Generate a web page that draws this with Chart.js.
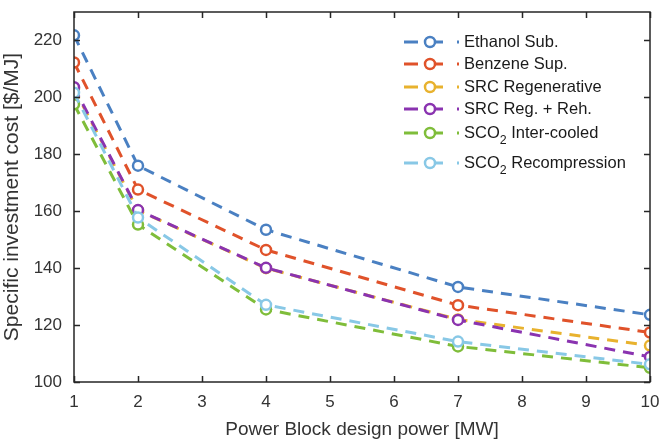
<!DOCTYPE html>
<html>
<head>
<meta charset="utf-8">
<script src="https://cdn.jsdelivr.net/npm/chart.js@4/dist/chart.umd.min.js"></script>
<style>
  html, body { margin: 0; padding: 0; background: #ffffff; }
  #wrap { width: 660px; height: 441px; position: relative; }
</style>
</head>
<body>
<div id="wrap"><canvas id="c" width="660" height="441"></canvas></div>
<script>
// Design power of the power block [MW]
const powerMW = [1, 2, 4, 7, 10];

// Specific investment cost [$/MJ] per cycle layout
const ethanolSub   = [221.8, 176.0, 153.5, 133.4, 123.6];
const benzeneSup   = [212.3, 167.6, 146.4, 127.0, 117.4];
const srcRegen     = [203.0, 160.3, 140.0, 122.0, 112.8];
const srcRegReh    = [203.6, 160.4, 140.1, 121.8, 108.8];
const sco2Inter    = [197.6, 155.3, 125.5, 112.5, 105.0];
const sco2Recomp   = [201.6, 157.8, 127.1, 114.2, 106.2];

const seriesNames  = ['Ethanol Sub.', 'Benzene Sup.', 'SRC Regenerative', 'SRC Reg. + Reh.', 'SCO2 Inter-cooled', 'SCO2 Recompression'];
const seriesValues = [ethanolSub, benzeneSup, srcRegen, srcRegReh, sco2Inter, sco2Recomp];
const seriesColors = ['#4a80c2', '#e0522a', '#e8b22e', '#8a33b0', '#7fbd3a', '#88c8e6'];

const yTicks = [100, 120, 140, 160, 180, 200, 220];
const xTicks = [1, 2, 3, 4, 5, 6, 7, 8, 9, 10];

const AXIS_COLOR = '#262626';
const TEXT_COLOR = '#333333';
const FONT = 'Liberation Sans, Arial, Helvetica, sans-serif';

const datasets = seriesNames.map((name, i) => ({
  label: name,
  data: powerMW.map((x, k) => ({ x: x, y: seriesValues[i][k] })),
  borderColor: seriesColors[i],
  backgroundColor: seriesColors[i],
  borderWidth: 3,
  borderDash: [11, 8],
  pointStyle: 'circle',
  pointRadius: 5,
  pointBorderWidth: 2.5,
  pointBorderColor: seriesColors[i],
  pointBackgroundColor: '#ffffff',
  tension: 0,
  order: seriesNames.length - i
}));

// Box around the plot with inward tick marks on all four sides
const boxPlugin = {
  id: 'boxAxes',
  afterDatasetsDraw(chart) {
    const { ctx, chartArea: a, scales } = chart;
    ctx.save();
    ctx.strokeStyle = AXIS_COLOR;
    ctx.lineWidth = 1.5;
    ctx.setLineDash([]);
    ctx.strokeRect(a.left, a.top, a.right - a.left, a.bottom - a.top);
    const tl = 6;
    ctx.beginPath();
    xTicks.forEach(v => {
      const px = Math.round(scales.x.getPixelForValue(v)) + 0.5;
      ctx.moveTo(px, a.bottom); ctx.lineTo(px, a.bottom - tl);
      ctx.moveTo(px, a.top); ctx.lineTo(px, a.top + tl);
    });
    yTicks.forEach(v => {
      const py = Math.round(scales.y.getPixelForValue(v)) + 0.5;
      ctx.moveTo(a.left, py); ctx.lineTo(a.left + tl, py);
      ctx.moveTo(a.right, py); ctx.lineTo(a.right - tl, py);
    });
    ctx.stroke();
    ctx.restore();
  }
};

// Draws text where a leading "SCO2" gets its "2" as a subscript
function drawSubText(ctx, text, x, y, size) {
  const m = text.match(/^SCO2(.*)$/);
  ctx.font = size + 'px ' + FONT;
  ctx.textBaseline = 'middle';
  ctx.textAlign = 'left';
  if (!m) { ctx.fillText(text, x, y); return; }
  ctx.fillText('SCO', x, y);
  let w = ctx.measureText('SCO').width;
  ctx.font = (size * 0.75) + 'px ' + FONT;
  ctx.fillText('2', x + w, y + size * 0.45);
  w += ctx.measureText('2').width;
  ctx.font = size + 'px ' + FONT;
  ctx.fillText(m[1], x + w, y);
}

// Legend: line sample with an open circle marker, then the label
const legendPlugin = {
  id: 'cycleLegend',
  afterDraw(chart) {
    const ctx = chart.ctx;
    const rows = [42, 64, 87, 109, 133, 163];
    ctx.save();
    seriesNames.forEach((name, i) => {
      const y = rows[i];
      const c = seriesColors[i];
      ctx.strokeStyle = c;
      ctx.lineWidth = 3;
      ctx.setLineDash([]);
      ctx.beginPath();
      ctx.moveTo(404, y); ctx.lineTo(418, y);
      ctx.moveTo(430, y); ctx.lineTo(443, y);
      ctx.moveTo(457, y); ctx.lineTo(459, y);
      ctx.stroke();
      ctx.beginPath();
      ctx.arc(430, y, 5, 0, Math.PI * 2);
      ctx.fillStyle = '#ffffff';
      ctx.fill();
      ctx.lineWidth = 2.5;
      ctx.stroke();
      ctx.fillStyle = '#1a1a1a';
      drawSubText(ctx, name, 464, y, 16.5);
    });
    ctx.restore();
  }
};

function noEdgePadding(s) {
  s.paddingLeft = 0; s.paddingRight = 0; s.paddingTop = 0; s.paddingBottom = 0;
}

new Chart(document.getElementById('c'), {
  type: 'line',
  data: { datasets: datasets },
  options: {
    responsive: false,
    animation: false,
    devicePixelRatio: 1,
    layout: { padding: { top: 12, right: 10, left: 0, bottom: 0 } },
    plugins: {
      legend: { display: false },
      tooltip: { enabled: false }
    },
    scales: {
      x: {
        type: 'linear',
        min: 1, max: 10,
        grid: { display: false, drawTicks: false },
        border: { display: false },
        afterBuildTicks: s => { s.ticks = xTicks.map(v => ({ value: v })); },
        afterFit: s => { s.height = 59; noEdgePadding(s); },
        ticks: { color: TEXT_COLOR, font: { family: FONT, size: 17 }, padding: 10, maxRotation: 0 },
        title: { display: true, text: 'Power Block design power [MW]', color: TEXT_COLOR,
                 font: { family: FONT, size: 19 }, padding: { top: 0, bottom: 0 } }
      },
      y: {
        type: 'linear',
        min: 100, max: 230,
        grid: { display: false, drawTicks: false },
        border: { display: false },
        afterBuildTicks: s => { s.ticks = yTicks.map(v => ({ value: v })); },
        afterFit: s => { s.width = 74; noEdgePadding(s); },
        ticks: { color: TEXT_COLOR, font: { family: FONT, size: 17 }, padding: 12 },
        title: { display: true, text: 'Specific investment cost [$/MJ]', color: TEXT_COLOR,
                 font: { family: FONT, size: 21 }, padding: { top: 0, bottom: 0 } }
      }
    }
  },
  plugins: [boxPlugin, legendPlugin]
});
</script>
</body>
</html>
